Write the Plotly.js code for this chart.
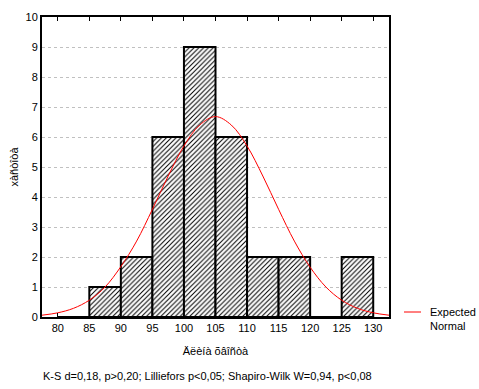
<!DOCTYPE html>
<html><head><meta charset="utf-8">
<script src="https://cdn.plot.ly/plotly-3.0.1.min.js"></script>
<style>html,body{margin:0;padding:0;background:#fff}#c{width:479px;height:389px}</style>
</head><body><div id="c"></div>
<script>
const binCenters = [82.5, 87.5, 92.5, 97.5, 102.5, 107.5, 112.5, 117.5, 122.5, 127.5];
const binCounts  = [0, 1, 2, 6, 9, 6, 2, 2, 0, 2];
const curveX = [77.5, 80, 82.5, 85, 87.5, 90, 92.5, 95, 97.5, 100, 102.5, 105, 107.5, 110, 112.5, 115, 117.5, 120, 122.5, 125, 127.5, 130, 132.5];
const curveY = [0.06, 0.14, 0.29, 0.56, 1.00, 1.68, 2.53, 3.59, 4.70, 5.70, 6.40, 6.68, 6.40, 5.70, 4.70, 3.59, 2.53, 1.66, 1.00, 0.56, 0.29, 0.14, 0.06];
const xTicks = [80, 85, 90, 95, 100, 105, 110, 115, 120, 125, 130];
const xTitle = "Äëèíà õâîñòà";
const yTitle = "xàñòîòà";
const footer = "K-S d=0,18, p>0,20; Lilliefors p<0,05; Shapiro-Wilk W=0,94, p<0,08";
const legendText = "Expected<br>Normal";

const font = {family: "Liberation Sans, Arial, sans-serif", size: 11, color: "#000"};

const traces = [
  {type: "bar", x: binCenters, y: binCounts, width: 5, showlegend: false,
   marker: {color: "#fff", line: {color: "#000", width: 2},
            pattern: {shape: "/", fgcolor: "#000", bgcolor: "#fff", size: 3.4, solidity: 0.3, fillmode: "replace"}}},
  {type: "scatter", mode: "lines", x: curveX, y: curveY, showlegend: false,
   line: {color: "#ff0000", width: 1, shape: "spline"}}
];

// plot area: x 42..389, y 17..317
const layout = {
  width: 479, height: 389,
  margin: {l: 42, r: 90, t: 17, b: 72, autoexpand: false},
  paper_bgcolor: "#fff", plot_bgcolor: "#fff",
  font: font,
  bargap: 0,
  showlegend: false,
  xaxis: {range: [77.5, 132.5], tickvals: xTicks, showgrid: false, zeroline: false, automargin: false,
          showline: true, mirror: "allticks", linecolor: "#000", linewidth: 2,
          ticks: "inside", ticklen: 4, tickcolor: "#000", tickfont: font,
          title: {text: xTitle, font: font, standoff: 14}},
  yaxis: {range: [0, 10], dtick: 1, showgrid: true, gridcolor: "#c0c0c0", griddash: "dot", gridwidth: 1,
          zeroline: false, showline: true, mirror: true, linecolor: "#000", linewidth: 2, automargin: false,
          ticks: "", tickfont: font,
          title: {text: yTitle, font: font, standoff: 5}},
  shapes: [
    {type: "line", xref: "paper", yref: "paper", x0: (404-42)/347, x1: (421-42)/347, y0: (317-312)/300, y1: (317-312)/300,
     line: {color: "#ff0000", width: 1}}
  ],
  annotations: [
    {text: legendText, xref: "paper", yref: "paper", x: (428-42)/347, y: (317-319)/300, xanchor: "left", yanchor: "middle",
     align: "left", showarrow: false, font: font},
    {text: footer, xref: "paper", yref: "paper", x: (207-42)/347, y: (317-368)/300, yanchor: "top", showarrow: false, font: font}
  ]
};

Plotly.newPlot("c", traces, layout, {displayModeBar: false, staticPlot: true});
</script>
</body></html>
